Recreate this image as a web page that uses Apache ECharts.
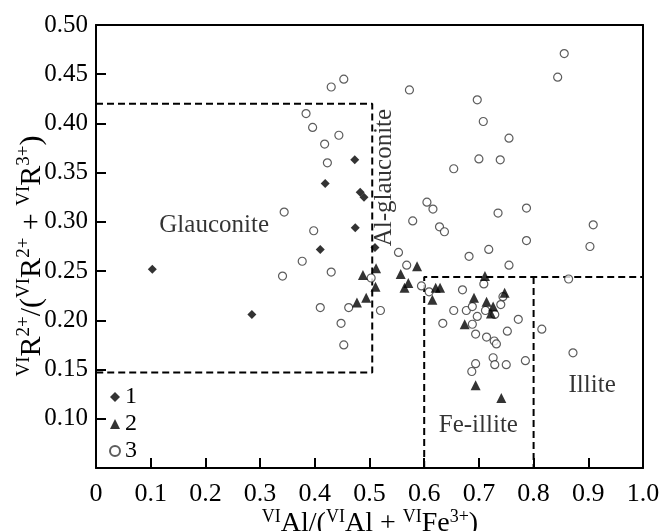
<!DOCTYPE html>
<html>
<head>
<meta charset="utf-8">
<script src="https://cdn.jsdelivr.net/npm/echarts@6/dist/echarts.min.js"></script>
<style>
  html, body { margin: 0; padding: 0; background: #fff; }
  #chart { width: 660px; height: 531px; }
</style>
</head>
<body>
<div id="chart"></div>
<script>
// tick labels
const xTicks = ['0', '0.1', '0.2', '0.3', '0.4', '0.5', '0.6', '0.7', '0.8', '0.9', '1.0']
const yTicks = ['', '0.10', '0.15', '0.20', '0.25', '0.30', '0.35', '0.40', '0.45', '0.50']

// series 1 (diamonds)
const s1 = [
  [0.103, 0.252], [0.285, 0.206], [0.410, 0.272], [0.419, 0.339],
  [0.473, 0.363], [0.483, 0.330], [0.490, 0.325], [0.474, 0.294],
  [0.510, 0.274]
]

// series 2 (triangles)
const s2 = [
  [0.488, 0.246], [0.512, 0.253], [0.511, 0.234], [0.494, 0.223],
  [0.477, 0.218], [0.557, 0.247], [0.587, 0.255], [0.571, 0.238],
  [0.564, 0.233], [0.621, 0.233], [0.629, 0.233], [0.615, 0.221],
  [0.711, 0.245], [0.691, 0.223], [0.714, 0.219], [0.726, 0.214],
  [0.722, 0.207], [0.747, 0.228], [0.674, 0.196], [0.694, 0.134],
  [0.741, 0.121]
]

// series 3 (open circles)
const s3 = [
  [0.430, 0.437], [0.453, 0.445], [0.384, 0.410], [0.396, 0.396],
  [0.418, 0.379], [0.423, 0.360], [0.444, 0.388], [0.344, 0.310],
  [0.398, 0.291], [0.377, 0.260], [0.341, 0.245], [0.410, 0.213],
  [0.430, 0.249], [0.462, 0.213], [0.448, 0.197], [0.453, 0.175],
  [0.503, 0.243], [0.520, 0.210], [0.553, 0.269], [0.568, 0.256],
  [0.579, 0.301], [0.605, 0.320], [0.616, 0.313], [0.628, 0.295],
  [0.637, 0.290], [0.595, 0.235], [0.609, 0.229], [0.634, 0.197],
  [0.573, 0.434], [0.697, 0.424], [0.708, 0.402], [0.755, 0.385],
  [0.700, 0.364], [0.739, 0.363], [0.654, 0.354], [0.735, 0.309],
  [0.787, 0.314], [0.909, 0.297], [0.903, 0.275], [0.787, 0.281],
  [0.718, 0.272], [0.682, 0.265], [0.755, 0.256], [0.856, 0.471],
  [0.844, 0.447], [0.864, 0.242], [0.815, 0.191], [0.872, 0.167],
  [0.709, 0.237], [0.670, 0.231], [0.654, 0.210], [0.677, 0.210],
  [0.688, 0.214], [0.697, 0.204], [0.712, 0.210], [0.688, 0.196],
  [0.694, 0.186], [0.714, 0.183], [0.728, 0.179], [0.732, 0.176],
  [0.744, 0.224], [0.740, 0.216], [0.729, 0.206], [0.752, 0.189],
  [0.772, 0.201], [0.726, 0.162], [0.729, 0.155], [0.750, 0.155],
  [0.785, 0.159], [0.694, 0.156], [0.687, 0.148]
]

// field boundaries (dashed)
const glauBox = [[0, 0.42], [0.505, 0.42], [0.505, 0.147], [0, 0.147]]
const feIlliteBox = [[0.6, 0.05], [0.6, 0.244], [1.0, 0.244]]
const illiteSplit = [[0.8, 0.244], [0.8, 0.05]]

// field names
const fieldNames = ['Glauconite', 'Al-glauconite', 'Fe-illite', 'Illite']
const fieldAt = [[0.216, 0.296], [0.527, 0.345], [0.699, 0.093], [0.907, 0.134]]

const serif = 'Liberation Serif'

const chart = echarts.init(document.getElementById('chart'))

const dashed = (data) => ({
  type: 'line',
  data: data,
  showSymbol: false,
  silent: true,
  z: 1,
  lineStyle: { color: '#000', width: 2, type: [7, 4] }
})

// top/right frame axes (no ticks, kept off zero so they sit on the border)
const frameLine = () => ({ show: true, onZero: false, lineStyle: { color: '#000', width: 2 } })

// rich styles for the axis titles (drawn as graphic text)
const titleRich = (big, small, lh) => ({
  b: { fontFamily: serif, fontSize: big, fill: '#000', lineHeight: lh, verticalAlign: 'bottom' },
  sup: { fontFamily: serif, fontSize: small, fill: '#000', lineHeight: lh, verticalAlign: 'top' }
})

chart.setOption({
  animation: false,
  grid: {
    left: 96,
    right: 17,
    top: 25,
    bottom: 63,
    outerBoundsMode: 'none'
  },
  legend: {
    orient: 'vertical',
    left: 104,
    top: 380,
    z: 10,
    itemWidth: 10,
    itemHeight: 10,
    itemGap: 3,
    data: ['1', '2', '3'],
    textStyle: { fontFamily: serif, fontSize: 24, color: '#000', lineHeight: 24 }
  },
  graphic: [
    {
      type: 'text',
      x: 370,
      y: 523,
      silent: true,
      style: {
        text: '{sup|VI}{b|Al/(}{sup|VI}{b|Al + }{sup|VI}{b|Fe}{sup|3+}{b|)}',
        align: 'center',
        verticalAlign: 'middle',
        rich: titleRich(28, 18, 30)
      }
    },
    {
      type: 'text',
      x: 31,
      y: 256,
      rotation: Math.PI / 2,
      silent: true,
      style: {
        text: '{sup|VI}{b|R}{sup|2+}{b|/(}{sup|VI}{b|R}{sup|2+}{b| + }{sup|VI}{b|R}{sup|3+}{b|)}',
        align: 'center',
        verticalAlign: 'middle',
        rich: titleRich(30, 19, 32)
      }
    }
  ],
  xAxis: [{
    type: 'value',
    min: 0,
    max: 1,
    interval: 0.1,
    axisLine: { show: true, lineStyle: { color: '#000', width: 2 } },
    axisTick: { show: true, inside: true, length: 10, lineStyle: { color: '#000', width: 2 } },
    axisLabel: {
      margin: 13,
      fontFamily: serif,
      fontSize: 26,
      color: '#000',
      formatter: (v) => xTicks[Math.round(v * 10)]
    },
    splitLine: { show: false }
  }, {
    type: 'value',
    position: 'top',
    min: 0,
    max: 1,
    interval: 0.1,
    axisLine: frameLine(),
    axisTick: { show: false },
    axisLabel: { show: false },
    splitLine: { show: false }
  }],
  yAxis: [{
    type: 'value',
    min: 0.05,
    max: 0.5,
    interval: 0.05,
    axisLine: { show: true, lineStyle: { color: '#000', width: 2 } },
    axisTick: { show: true, inside: true, length: 10, lineStyle: { color: '#000', width: 2 } },
    axisLabel: {
      margin: 8,
      fontFamily: serif,
      fontSize: 25,
      color: '#000',
      formatter: (v) => yTicks[Math.round(v * 20) - 1]
    },
    splitLine: { show: false }
  }, {
    type: 'value',
    position: 'right',
    min: 0.05,
    max: 0.5,
    interval: 0.05,
    axisLine: frameLine(),
    axisTick: { show: false },
    axisLabel: { show: false },
    splitLine: { show: false }
  }],
  series: [
    dashed(glauBox),
    dashed(feIlliteBox),
    dashed(illiteSplit),
    {
      type: 'scatter',
      silent: true,
      symbolSize: 0,
      data: fieldAt.map((p, i) => ({
        value: p,
        label: {
          show: true,
          position: 'inside',
          formatter: fieldNames[i],
          rotate: i === 1 ? 90 : 0,
          fontFamily: serif,
          fontSize: 25,
          color: '#000'
        }
      }))
    },
    {
      name: '3',
      type: 'scatter',
      symbol: 'circle',
      symbolSize: 8,
      z: 3,
      data: s3,
      itemStyle: { color: '#fff', borderColor: '#333', borderWidth: 1.2 }
    },
    {
      name: '1',
      type: 'scatter',
      symbol: 'diamond',
      symbolSize: 9,
      z: 4,
      data: s1,
      itemStyle: { color: '#000' }
    },
    {
      name: '2',
      type: 'scatter',
      symbol: 'triangle',
      symbolSize: 10,
      z: 4,
      data: s2,
      itemStyle: { color: '#000' }
    }
  ]
})
</script>
</body>
</html>
